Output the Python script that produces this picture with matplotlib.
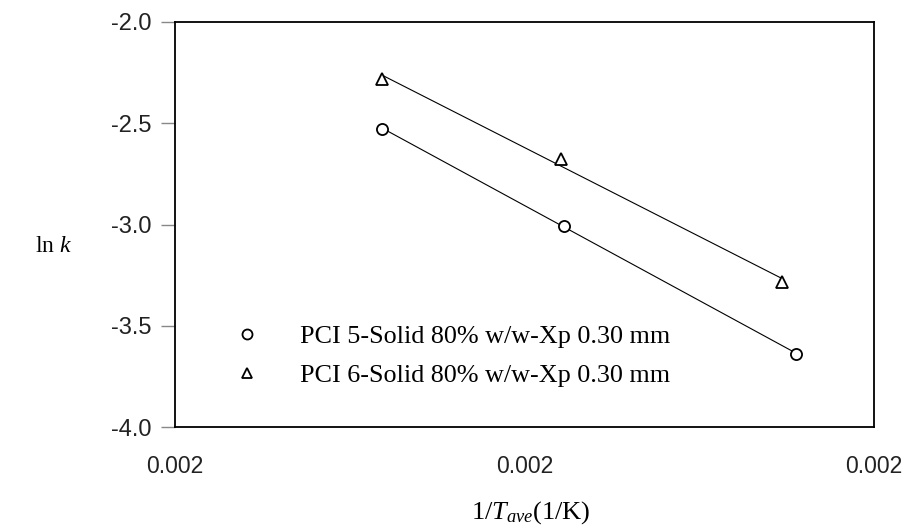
import numpy as np
import matplotlib
matplotlib.use("Agg")
import matplotlib.pyplot as plt
from matplotlib.ticker import FormatStrFormatter

# 1/T_ave (1/K) and ln k
x_pci5 = np.array([0.0019591, 0.0020114, 0.0020778])
lnk_pci5 = np.array([-2.527, -3.005, -3.640])

x_pci6 = np.array([0.0019591, 0.0020105, 0.0020738])
lnk_pci6 = np.array([-2.281, -2.676, -3.284])

labels = ["PCI 5-Solid 80% w/w-Xp 0.30 mm", "PCI 6-Solid 80% w/w-Xp 0.30 mm"]
x_ticks = [0.0019, 0.0020, 0.0021]
y_ticks = [-4.0, -3.5, -3.0, -2.5, -2.0]

plt.rcParams['mathtext.fontset'] = 'custom'
plt.rcParams['mathtext.rm'] = 'Liberation Serif'
plt.rcParams['mathtext.it'] = 'Liberation Serif:italic'

fig = plt.figure(figsize=(9.09, 5.30), dpi=100)
ax = fig.add_axes([175 / 909, 1 - 427 / 530, 699 / 909, 405 / 530])

for xs, ys, mk, lab in [(x_pci5, lnk_pci5, "o", labels[0]),
                        (x_pci6, lnk_pci6, "^", labels[1])]:
    a, b = np.polyfit(xs, ys, 1)
    xl = np.array([xs.min(), xs.max()])
    ax.plot(xl, a * xl + b, color="black", lw=0.8)
    ax.plot(xs, ys, linestyle="none", marker=mk, markersize=8,
            markerfacecolor="white", markeredgecolor="black",
            markeredgewidth=1.3, label=lab)

ax.set_xlim(0.0019, 0.0021)
ax.set_ylim(-4.0, -2.0)
ax.set_xticks(x_ticks)
ax.set_yticks(y_ticks)
ax.xaxis.set_major_formatter(FormatStrFormatter("%.3f"))
ax.yaxis.set_major_formatter(FormatStrFormatter("%.1f"))

for s in ax.spines.values():
    s.set_linewidth(1.3)
ax.tick_params(axis="x", length=0, pad=20, labelsize=16.5, labelcolor="#222222")
ax.tick_params(axis="y", length=10, width=1, color="#888888", pad=7,
               labelsize=17, labelcolor="#222222")
for t in ax.get_xticklabels() + ax.get_yticklabels():
    t.set_fontfamily("Liberation Sans")

ax.set_ylabel(r"$\mathrm{ln}\ k$", rotation=0, fontsize=17, ha="center", va="center")
ax.yaxis.set_label_coords(-0.174, 0.449)
ax.set_xlabel(r"$1/T_{ave}(1/\mathrm{K})$", fontsize=19, ha="center", va="center")
ax.xaxis.set_label_coords(0.509, -0.212)

leg = ax.legend(loc="upper left", bbox_to_anchor=(0.0662, 0.252), frameon=False,
                borderaxespad=0, borderpad=0, handlelength=2,
                markerscale=0.9, handletextpad=1.0, labelspacing=0.6,
                prop={"family": "Liberation Serif", "size": 18.8})

fig.savefig("out.png", dpi=100)
